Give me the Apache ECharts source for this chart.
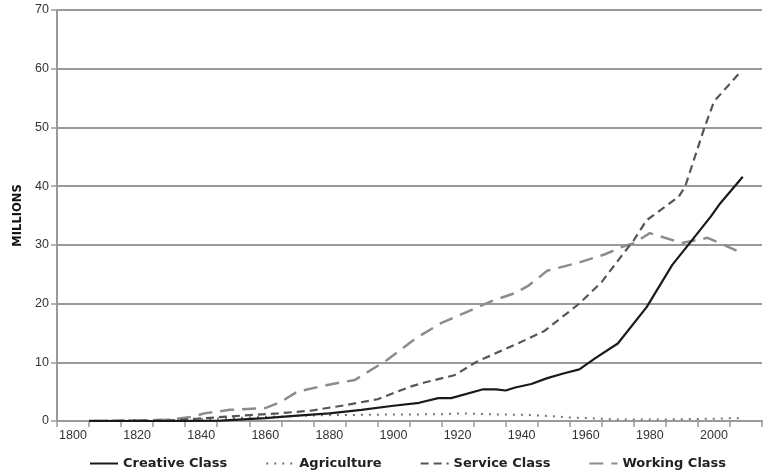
<!DOCTYPE html>
<html>
<head>
<meta charset="utf-8">
<script src="https://cdn.jsdelivr.net/npm/echarts@6/dist/echarts.min.js"></script>
<style>
html,body{margin:0;padding:0;background:#fff;}
#chart{width:765px;height:471px;}
</style>
</head>
<body>
<div id="chart"></div>
<script>
// ---- Data (millions) ----
const creativeYears = [1805,1830,1846,1860,1870,1880,1890,1900,1908,1914,1918,1928,1932,1935,1938,1943,1948,1953,1958,1963,1970,1979,1987,1992,1999,2002,2009];
const creativeValues = [0,0,0.05,0.5,0.9,1.3,1.9,2.6,3.1,3.9,3.9,5.4,5.4,5.2,5.7,6.3,7.3,8.1,8.8,10.7,13.2,19.4,26.6,30,34.8,37.1,41.6];

const agricultureYears = [1805,1820,1840,1860,1880,1900,1915,1921,1930,1940,1945,1950,1955,1960,1965,1970,1980,1990,2000,2009];
const agricultureValues = [0.05,0.1,0.3,0.7,1.0,1.1,1.15,1.3,1.15,1.05,0.95,0.8,0.6,0.5,0.4,0.25,0.25,0.3,0.4,0.5];

const serviceYears = [1805,1830,1839,1855,1864,1874,1885,1895,1905,1910,1919,1926,1938,1947,1958,1965,1971,1975,1979,1989,1991,1997,2000,2008];
const serviceValues = [0,0.1,0.4,1.0,1.3,1.75,2.7,3.7,5.8,6.6,7.8,10.1,13,15.3,20,23.7,28,30.8,34.2,38.2,39.9,49.9,54.4,59.3];

const workingYears = [1805,1830,1837,1841,1849,1860,1865,1870,1879,1888,1898,1907,1915,1923,1931,1938,1942,1948,1958,1966,1971,1975,1980,1990,1998,2008];
const workingValues = [0,0.2,0.7,1.3,1.9,2.2,3.3,5.0,6.1,7.0,10.4,14.1,16.7,18.6,20.5,21.8,23,25.6,27,28.4,29.6,30.3,32,30.3,31.2,28.8];

const seriesNames = ['Creative Class','Agriculture','Service Class','Working Class'];
const yAxisTitle = 'MILLIONS';

function pairs(xs, ys){ return xs.map((x,i)=>[x, ys[i]]); }

const chart = echarts.init(document.getElementById('chart'), null, {renderer:'canvas'});
const axisGray = '#9a9a9a';
const labelFont = '"Liberation Sans", Arial, sans-serif';

const option = {
  animation: false,
  backgroundColor: '#ffffff',
  grid: { left: 57, right: -7, top: 10, bottom: 50, containLabel: false },
  xAxis: [
    {
      type: 'value', position: 'bottom', min: 1795, max: 2015, interval: 10,
      axisLine: { show: true, lineStyle: { color: axisGray, width: 2 } },
      axisTick: { show: true, length: 6, lineStyle: { color: axisGray, width: 1.5 } },
      axisLabel: { show: false },
      splitLine: { show: false }
    },
    {
      type: 'value', position: 'bottom', min: 1795, max: 2015, interval: 5,
      axisLine: { show: false },
      axisTick: { show: false },
      splitLine: { show: false },
      axisLabel: {
        show: true, margin: 8, color: '#333', fontSize: 12.5, fontFamily: labelFont,
        formatter: function(v){ return (Math.round(v) % 20 === 0) ? String(Math.round(v)) : ''; }
      }
    }
  ],
  yAxis: {
    type: 'value', min: 0, max: 70, interval: 10,
    name: yAxisTitle, nameLocation: 'middle', nameGap: 32, nameRotate: 90,
    nameTextStyle: { fontWeight: 'bold', fontSize: 11.5, color: '#111', fontFamily: '"DejaVu Sans", sans-serif' },
    axisLine: { show: true, lineStyle: { color: axisGray, width: 2 } },
    axisTick: { show: true, length: 6, lineStyle: { color: axisGray, width: 1.5 } },
    axisLabel: { color: '#333', fontSize: 12.5, margin: 8, fontFamily: labelFont },
    splitLine: { show: true, lineStyle: { color: axisGray, width: 2 } }
  },
  legend: {
    left: 84, top: 452, itemGap: 38, itemWidth: 28, itemHeight: 12,
    itemStyle: { opacity: 0 },
    textStyle: { fontWeight: 'bold', fontSize: 13, color: '#222', fontFamily: '"DejaVu Sans", sans-serif' },
    data: seriesNames
  },
  series: [
    {
      name: seriesNames[0], type: 'line', xAxisIndex: 0, symbol: 'none', z: 5,
      data: pairs(creativeYears, creativeValues),
      lineStyle: { color: '#1a1a1a', width: 2.2, type: 'solid' },
      itemStyle: { color: '#1a1a1a' }
    },
    {
      name: seriesNames[1], type: 'line', xAxisIndex: 0, symbol: 'none', z: 2,
      data: pairs(agricultureYears, agricultureValues),
      lineStyle: { color: '#777', width: 2, type: [2, 6] },
      itemStyle: { color: '#777' }
    },
    {
      name: seriesNames[2], type: 'line', xAxisIndex: 0, symbol: 'none', z: 4,
      data: pairs(serviceYears, serviceValues),
      lineStyle: { color: '#555', width: 2.2, type: [8, 5] },
      itemStyle: { color: '#555' }
    },
    {
      name: seriesNames[3], type: 'line', xAxisIndex: 0, symbol: 'none', z: 3,
      data: pairs(workingYears, workingValues),
      lineStyle: { color: '#8c8c8c', width: 2.5, type: [14, 8] },
      itemStyle: { color: '#8c8c8c' }
    }
  ]
};
chart.setOption(option);
</script>
</body>
</html>
